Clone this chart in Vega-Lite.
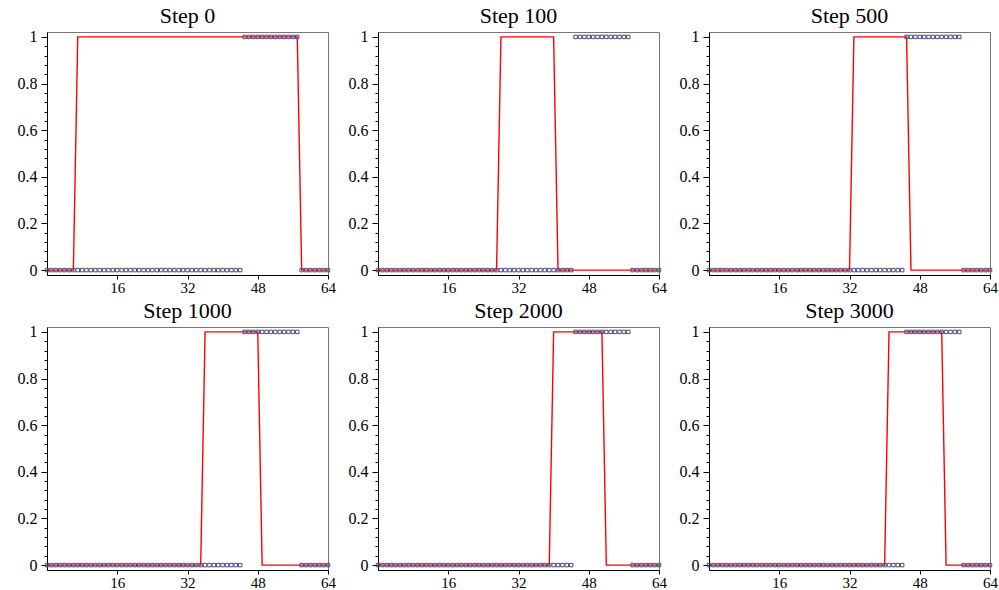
{
  "$schema": "https://vega.github.io/schema/vega-lite/v6.json",
  "padding": {"left": 16, "top": 4, "right": 2, "bottom": 0},
  "background": "white",
  "bounds": "flush",
  "columns": 3,
  "spacing": {"row": 52, "column": 50},
  "config": {
    "view": {"stroke": "#777777", "strokeWidth": 1},
    "title": {"font": "Liberation Serif", "fontSize": 22, "fontWeight": "normal", "color": "black", "offset": 1, "baseline": "alphabetic", "frame": "group"},
    "axis": {"grid": false, "title": null, "domainColor": "black", "tickColor": "black", "labelColor": "black", "labelFont": "Liberation Serif", "labelFontSize": 16, "labelFlush": false, "labelOverlap": false},
    "axisX": {"labelFontSize": 15}
  },
  "datasets": {
    "target": [
      {"x": 0, "value": 0}, {"x": 1, "value": 0}, {"x": 2, "value": 0}, {"x": 3, "value": 0}, {"x": 4, "value": 0},
      {"x": 5, "value": 0}, {"x": 6, "value": 0}, {"x": 7, "value": 0}, {"x": 8, "value": 0}, {"x": 9, "value": 0},
      {"x": 10, "value": 0}, {"x": 11, "value": 0}, {"x": 12, "value": 0}, {"x": 13, "value": 0}, {"x": 14, "value": 0},
      {"x": 15, "value": 0}, {"x": 16, "value": 0}, {"x": 17, "value": 0}, {"x": 18, "value": 0}, {"x": 19, "value": 0},
      {"x": 20, "value": 0}, {"x": 21, "value": 0}, {"x": 22, "value": 0}, {"x": 23, "value": 0}, {"x": 24, "value": 0},
      {"x": 25, "value": 0}, {"x": 26, "value": 0}, {"x": 27, "value": 0}, {"x": 28, "value": 0}, {"x": 29, "value": 0},
      {"x": 30, "value": 0}, {"x": 31, "value": 0}, {"x": 32, "value": 0}, {"x": 33, "value": 0}, {"x": 34, "value": 0},
      {"x": 35, "value": 0}, {"x": 36, "value": 0}, {"x": 37, "value": 0}, {"x": 38, "value": 0}, {"x": 39, "value": 0},
      {"x": 40, "value": 0}, {"x": 41, "value": 0}, {"x": 42, "value": 0}, {"x": 43, "value": 0}, {"x": 44, "value": 0},
      {"x": 45, "value": 1}, {"x": 46, "value": 1}, {"x": 47, "value": 1}, {"x": 48, "value": 1}, {"x": 49, "value": 1},
      {"x": 50, "value": 1}, {"x": 51, "value": 1}, {"x": 52, "value": 1}, {"x": 53, "value": 1}, {"x": 54, "value": 1},
      {"x": 55, "value": 1}, {"x": 56, "value": 1}, {"x": 57, "value": 1}, {"x": 58, "value": 0}, {"x": 59, "value": 0},
      {"x": 60, "value": 0}, {"x": 61, "value": 0}, {"x": 62, "value": 0}, {"x": 63, "value": 0}, {"x": 64, "value": 0}
    ],
    "fit": [
      {"step": "Step 0", "x": 0, "value": 0}, {"step": "Step 0", "x": 6, "value": 0}, {"step": "Step 0", "x": 7, "value": 1},
      {"step": "Step 0", "x": 57, "value": 1}, {"step": "Step 0", "x": 58, "value": 0}, {"step": "Step 0", "x": 64, "value": 0},
      {"step": "Step 100", "x": 0, "value": 0}, {"step": "Step 100", "x": 27, "value": 0}, {"step": "Step 100", "x": 28, "value": 1},
      {"step": "Step 100", "x": 40, "value": 1}, {"step": "Step 100", "x": 41, "value": 0}, {"step": "Step 100", "x": 64, "value": 0},
      {"step": "Step 500", "x": 0, "value": 0}, {"step": "Step 500", "x": 32, "value": 0}, {"step": "Step 500", "x": 33, "value": 1},
      {"step": "Step 500", "x": 45, "value": 1}, {"step": "Step 500", "x": 46, "value": 0}, {"step": "Step 500", "x": 64, "value": 0},
      {"step": "Step 1000", "x": 0, "value": 0}, {"step": "Step 1000", "x": 35, "value": 0}, {"step": "Step 1000", "x": 36, "value": 1},
      {"step": "Step 1000", "x": 48, "value": 1}, {"step": "Step 1000", "x": 49, "value": 0}, {"step": "Step 1000", "x": 64, "value": 0},
      {"step": "Step 2000", "x": 0, "value": 0}, {"step": "Step 2000", "x": 39, "value": 0}, {"step": "Step 2000", "x": 40, "value": 1},
      {"step": "Step 2000", "x": 51, "value": 1}, {"step": "Step 2000", "x": 52, "value": 0}, {"step": "Step 2000", "x": 64, "value": 0},
      {"step": "Step 3000", "x": 0, "value": 0}, {"step": "Step 3000", "x": 40, "value": 0}, {"step": "Step 3000", "x": 41, "value": 1},
      {"step": "Step 3000", "x": 53, "value": 1}, {"step": "Step 3000", "x": 54, "value": 0}, {"step": "Step 3000", "x": 64, "value": 0}
    ]
  },
  "concat": [
    {
      "title": "Step 0", "width": 281, "height": 243,
      "encoding": {
        "x": {"field": "x", "type": "quantitative", "scale": {"domain": [0, 64], "nice": false, "zero": false}, "axis": {"values": [16, 32, 48, 64], "tickSize": 4, "labelPadding": 1}},
        "y": {"field": "value", "type": "quantitative", "scale": {"domain": [-0.021, 1.021], "nice": false, "zero": false}, "axis": {"values": [0, 0.04, 0.08, 0.12, 0.16, 0.2, 0.24, 0.28, 0.32, 0.36, 0.4, 0.44, 0.48, 0.52, 0.56, 0.6, 0.64, 0.68, 0.72, 0.76, 0.8, 0.84, 0.88, 0.92, 0.96, 1], "tickSize": {"condition": {"test": "abs(datum.value*5 - round(datum.value*5)) < 0.001", "value": 6}, "value": 3}, "labelExpr": "abs(datum.value*5 - round(datum.value*5)) < 0.001 ? format(datum.value, '~g') : ''", "labelPadding": 4}}
      },
      "layer": [
        {"data": {"name": "fit"}, "transform": [{"filter": "datum.step == 'Step 0'"}], "mark": {"type": "line", "color": "#ff0000", "strokeWidth": 1.4}},
        {"data": {"name": "target"}, "mark": {"type": "point", "shape": "square", "filled": false, "size": 12, "color": "#4a4a7c", "strokeWidth": 1, "opacity": 1}}
      ]
    },
    {
      "title": "Step 100", "width": 281, "height": 243,
      "encoding": {
        "x": {"field": "x", "type": "quantitative", "scale": {"domain": [0, 64], "nice": false, "zero": false}, "axis": {"values": [16, 32, 48, 64], "tickSize": 4, "labelPadding": 1}},
        "y": {"field": "value", "type": "quantitative", "scale": {"domain": [-0.021, 1.021], "nice": false, "zero": false}, "axis": {"values": [0, 0.04, 0.08, 0.12, 0.16, 0.2, 0.24, 0.28, 0.32, 0.36, 0.4, 0.44, 0.48, 0.52, 0.56, 0.6, 0.64, 0.68, 0.72, 0.76, 0.8, 0.84, 0.88, 0.92, 0.96, 1], "tickSize": {"condition": {"test": "abs(datum.value*5 - round(datum.value*5)) < 0.001", "value": 6}, "value": 3}, "labelExpr": "abs(datum.value*5 - round(datum.value*5)) < 0.001 ? format(datum.value, '~g') : ''", "labelPadding": 4}}
      },
      "layer": [
        {"data": {"name": "fit"}, "transform": [{"filter": "datum.step == 'Step 100'"}], "mark": {"type": "line", "color": "#ff0000", "strokeWidth": 1.4}},
        {"data": {"name": "target"}, "mark": {"type": "point", "shape": "square", "filled": false, "size": 12, "color": "#4a4a7c", "strokeWidth": 1, "opacity": 1}}
      ]
    },
    {
      "title": "Step 500", "width": 281, "height": 243,
      "encoding": {
        "x": {"field": "x", "type": "quantitative", "scale": {"domain": [0, 64], "nice": false, "zero": false}, "axis": {"values": [16, 32, 48, 64], "tickSize": 4, "labelPadding": 1}},
        "y": {"field": "value", "type": "quantitative", "scale": {"domain": [-0.021, 1.021], "nice": false, "zero": false}, "axis": {"values": [0, 0.04, 0.08, 0.12, 0.16, 0.2, 0.24, 0.28, 0.32, 0.36, 0.4, 0.44, 0.48, 0.52, 0.56, 0.6, 0.64, 0.68, 0.72, 0.76, 0.8, 0.84, 0.88, 0.92, 0.96, 1], "tickSize": {"condition": {"test": "abs(datum.value*5 - round(datum.value*5)) < 0.001", "value": 6}, "value": 3}, "labelExpr": "abs(datum.value*5 - round(datum.value*5)) < 0.001 ? format(datum.value, '~g') : ''", "labelPadding": 4}}
      },
      "layer": [
        {"data": {"name": "fit"}, "transform": [{"filter": "datum.step == 'Step 500'"}], "mark": {"type": "line", "color": "#ff0000", "strokeWidth": 1.4}},
        {"data": {"name": "target"}, "mark": {"type": "point", "shape": "square", "filled": false, "size": 12, "color": "#4a4a7c", "strokeWidth": 1, "opacity": 1}}
      ]
    },
    {
      "title": "Step 1000", "width": 281, "height": 243,
      "encoding": {
        "x": {"field": "x", "type": "quantitative", "scale": {"domain": [0, 64], "nice": false, "zero": false}, "axis": {"values": [16, 32, 48, 64], "tickSize": 4, "labelPadding": 1}},
        "y": {"field": "value", "type": "quantitative", "scale": {"domain": [-0.021, 1.021], "nice": false, "zero": false}, "axis": {"values": [0, 0.04, 0.08, 0.12, 0.16, 0.2, 0.24, 0.28, 0.32, 0.36, 0.4, 0.44, 0.48, 0.52, 0.56, 0.6, 0.64, 0.68, 0.72, 0.76, 0.8, 0.84, 0.88, 0.92, 0.96, 1], "tickSize": {"condition": {"test": "abs(datum.value*5 - round(datum.value*5)) < 0.001", "value": 6}, "value": 3}, "labelExpr": "abs(datum.value*5 - round(datum.value*5)) < 0.001 ? format(datum.value, '~g') : ''", "labelPadding": 4}}
      },
      "layer": [
        {"data": {"name": "fit"}, "transform": [{"filter": "datum.step == 'Step 1000'"}], "mark": {"type": "line", "color": "#ff0000", "strokeWidth": 1.4}},
        {"data": {"name": "target"}, "mark": {"type": "point", "shape": "square", "filled": false, "size": 12, "color": "#4a4a7c", "strokeWidth": 1, "opacity": 1}}
      ]
    },
    {
      "title": "Step 2000", "width": 281, "height": 243,
      "encoding": {
        "x": {"field": "x", "type": "quantitative", "scale": {"domain": [0, 64], "nice": false, "zero": false}, "axis": {"values": [16, 32, 48, 64], "tickSize": 4, "labelPadding": 1}},
        "y": {"field": "value", "type": "quantitative", "scale": {"domain": [-0.021, 1.021], "nice": false, "zero": false}, "axis": {"values": [0, 0.04, 0.08, 0.12, 0.16, 0.2, 0.24, 0.28, 0.32, 0.36, 0.4, 0.44, 0.48, 0.52, 0.56, 0.6, 0.64, 0.68, 0.72, 0.76, 0.8, 0.84, 0.88, 0.92, 0.96, 1], "tickSize": {"condition": {"test": "abs(datum.value*5 - round(datum.value*5)) < 0.001", "value": 6}, "value": 3}, "labelExpr": "abs(datum.value*5 - round(datum.value*5)) < 0.001 ? format(datum.value, '~g') : ''", "labelPadding": 4}}
      },
      "layer": [
        {"data": {"name": "fit"}, "transform": [{"filter": "datum.step == 'Step 2000'"}], "mark": {"type": "line", "color": "#ff0000", "strokeWidth": 1.4}},
        {"data": {"name": "target"}, "mark": {"type": "point", "shape": "square", "filled": false, "size": 12, "color": "#4a4a7c", "strokeWidth": 1, "opacity": 1}}
      ]
    },
    {
      "title": "Step 3000", "width": 281, "height": 243,
      "encoding": {
        "x": {"field": "x", "type": "quantitative", "scale": {"domain": [0, 64], "nice": false, "zero": false}, "axis": {"values": [16, 32, 48, 64], "tickSize": 4, "labelPadding": 1}},
        "y": {"field": "value", "type": "quantitative", "scale": {"domain": [-0.021, 1.021], "nice": false, "zero": false}, "axis": {"values": [0, 0.04, 0.08, 0.12, 0.16, 0.2, 0.24, 0.28, 0.32, 0.36, 0.4, 0.44, 0.48, 0.52, 0.56, 0.6, 0.64, 0.68, 0.72, 0.76, 0.8, 0.84, 0.88, 0.92, 0.96, 1], "tickSize": {"condition": {"test": "abs(datum.value*5 - round(datum.value*5)) < 0.001", "value": 6}, "value": 3}, "labelExpr": "abs(datum.value*5 - round(datum.value*5)) < 0.001 ? format(datum.value, '~g') : ''", "labelPadding": 4}}
      },
      "layer": [
        {"data": {"name": "fit"}, "transform": [{"filter": "datum.step == 'Step 3000'"}], "mark": {"type": "line", "color": "#ff0000", "strokeWidth": 1.4}},
        {"data": {"name": "target"}, "mark": {"type": "point", "shape": "square", "filled": false, "size": 12, "color": "#4a4a7c", "strokeWidth": 1, "opacity": 1}}
      ]
    }
  ]
}
